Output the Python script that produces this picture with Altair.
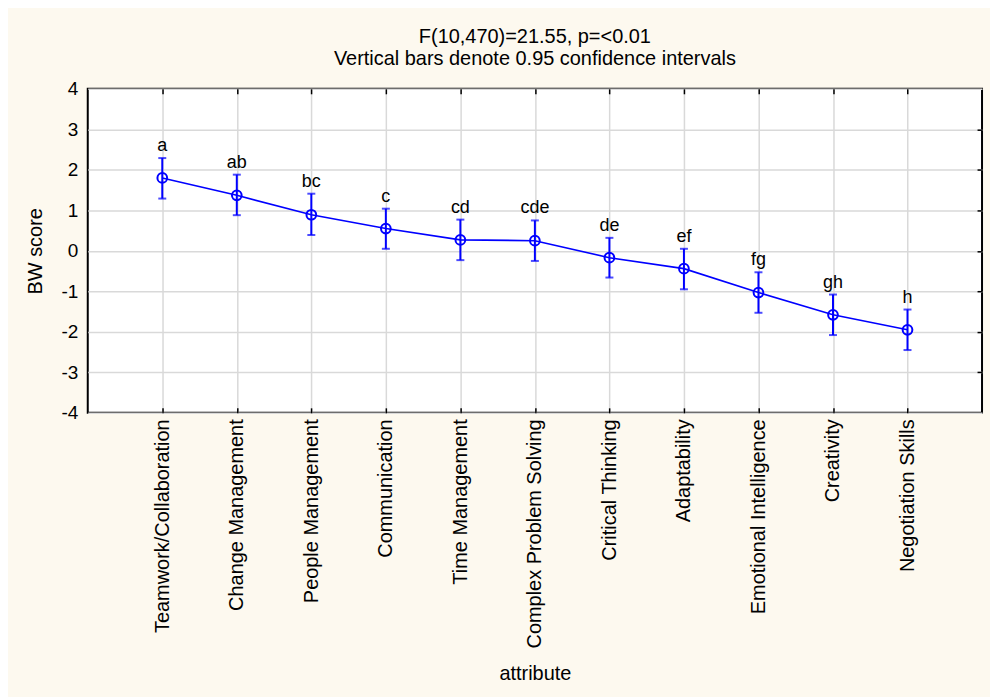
import altair as alt
import pandas as pd

attributes = [
    "Teamwork/Collaboration", "Change Management", "People Management",
    "Communication", "Time Management", "Complex Problem Solving",
    "Critical Thinking", "Adaptability", "Emotional Intelligence",
    "Creativity", "Negotiation Skills",
]
means = [1.80, 1.37, 0.89, 0.55, 0.27, 0.25, -0.17, -0.44, -1.03, -1.58, -1.95]
lower = [1.29, 0.88, 0.39, 0.05, -0.23, -0.25, -0.66, -0.95, -1.53, -2.08, -2.45]
upper = [2.29, 1.88, 1.41, 1.04, 0.77, 0.75, 0.32, 0.05, -0.53, -1.08, -1.45]
letters = ["a", "ab", "bc", "c", "cd", "cde", "de", "ef", "fg", "gh", "h"]
y_ticks = [-4, -3, -2, -1, 0, 1, 2, 3, 4]
title_lines = ["F(10,470)=21.55, p=<0.01", "Vertical bars denote 0.95 confidence intervals"]

df = pd.DataFrame({"attribute": attributes, "mean": means, "lower": lower,
                   "upper": upper, "letter": letters})

FONT = "Liberation Sans"
BLUE = "#0000FF"
GRID = "#D9D9D9"

x_scale = alt.Scale(type="point", padding=1, domain=attributes)
y_scale = alt.Scale(domain=[-4, 4], nice=False, zero=False)

base = alt.Chart(df)

x_main = alt.X("attribute:N", sort=attributes, scale=x_scale, title="attribute",
               axis=alt.Axis(orient="bottom", labelAngle=-90, labelAlign="right",
                             labelBaseline="middle", labelPadding=6, labelLimit=0,
                             ticks=False, domain=False, grid=True, gridColor=GRID,
                             gridWidth=1.5, labelFontSize=20, titleFontSize=20,
                             titleY=252, titleBaseline="top",
                             labelFont=FONT, titleFont=FONT,
                             labelColor="black", titleColor="black",
                             titleFontWeight="normal"))
y_main = alt.Y("lower:Q", scale=y_scale, title="BW score",
               axis=alt.Axis(orient="left", values=y_ticks, labelPadding=10, ticks=False,
                             labelExpr="'' + datum.value",
                             domain=False, grid=True, gridColor=GRID, gridWidth=1.5,
                             labelFontSize=19, titleFontSize=20, titlePadding=16,
                             labelFont=FONT, titleFont=FONT, labelColor="black",
                             titleColor="black", titleFontWeight="normal"))

bars = base.mark_rule(color=BLUE, strokeWidth=2).encode(
    x=x_main, y=y_main, y2="upper:Q")

x_top = alt.X("attribute:N", sort=attributes, scale=x_scale, title=None,
              axis=alt.Axis(orient="top", offset=-5, tickSize=5, tickColor="black",
                            tickWidth=1.5, labels=False, domain=False, grid=False))
y_right = alt.Y("mean:Q", scale=y_scale, title=None,
                axis=alt.Axis(orient="right", offset=-5, tickSize=5, tickColor="black",
                              tickWidth=1.5, values=y_ticks[1:-1], labels=False,
                              domain=False, grid=False))
line = base.mark_line(color=BLUE, strokeWidth=1.6).encode(x=x_top, y=y_right)

x_bottom_ticks = alt.X("attribute:N", sort=attributes, scale=x_scale, title=None,
                       axis=alt.Axis(orient="bottom", offset=-5, tickSize=5,
                                     tickColor="black", tickWidth=1.5, labels=False,
                                     domain=False, grid=False))
cap_lo = base.mark_tick(color=BLUE, size=8, thickness=2).encode(
    x=x_bottom_ticks, y=alt.Y("lower:Q", scale=y_scale, axis=None))
cap_hi = base.mark_tick(color=BLUE, size=8, thickness=2).encode(
    x=alt.X("attribute:N", sort=attributes, scale=x_scale, axis=None),
    y=alt.Y("upper:Q", scale=y_scale, axis=None))

points = base.mark_point(shape="circle", filled=False, color=BLUE, size=95,
                         strokeWidth=2, opacity=1).encode(
    x=alt.X("attribute:N", sort=attributes, scale=x_scale, axis=None),
    y=alt.Y("mean:Q", scale=y_scale, axis=None))

labels = base.mark_text(font=FONT, fontSize=18, color="black", dy=-7,
                        baseline="alphabetic", align="center").encode(
    x=alt.X("attribute:N", sort=attributes, scale=x_scale, axis=None),
    y=alt.Y("upper:Q", scale=y_scale, axis=None),
    text="letter:N")

chart = alt.layer(bars, line, cap_lo, cap_hi, points, labels).resolve_axis(
    x="independent", y="independent"
).properties(
    width=897, height=325,
    autosize=alt.AutoSizeParams(type="none"),
    padding={"left": 80, "top": 80, "right": 8, "bottom": 284},
    background="#FDF9EF",
    title=alt.TitleParams(text=title_lines, font=FONT, fontSize=20, fontWeight="normal",
                          color="black", anchor="middle", lineHeight=22, offset=11),
).configure_view(fill="white", stroke="black", strokeWidth=2)

chart.save("out.html", embed_options={"renderer": "svg", "actions": False})
